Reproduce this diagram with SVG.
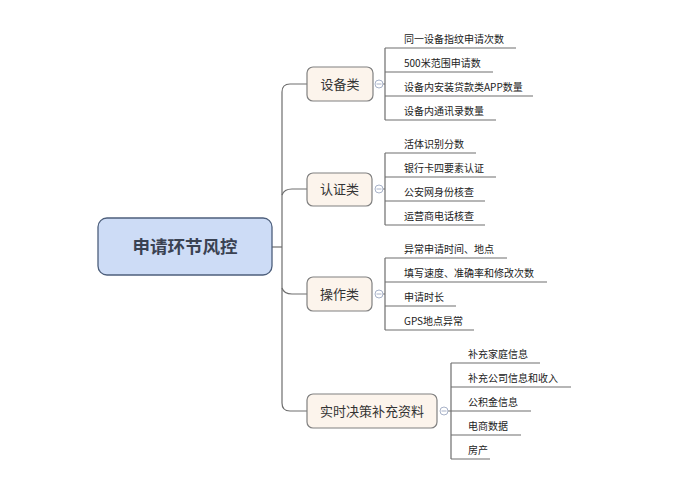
<svg xmlns="http://www.w3.org/2000/svg" width="679" height="497" viewBox="0 0 679 497">
<style>
.ln{fill:none;stroke:#6e6e6e;stroke-width:1.2}
.box{fill:#fcf4ec;stroke:#808080;stroke-width:1.2}
.nt{font-family:"Noto Sans CJK SC","Liberation Sans",sans-serif;font-size:13px;fill:#333;text-anchor:middle}
.lt{font-family:"Noto Sans CJK SC","Liberation Sans",sans-serif;font-size:10px;fill:#222}
.cc{fill:#fff;stroke:#a8b2c8;stroke-width:1}
.cm{stroke:#a8b2c8;stroke-width:1}
</style>
<rect width="679" height="497" fill="#fff"/>
<g id="connectors">
<path class="ln" d="M272 247H282"/>
<path class="ln" d="M307 84H290Q282 84 282 92V403Q282 411 290 411H307"/>
<path class="ln" d="M282 195Q284 189 292 189H307"/>
<path class="ln" d="M282 288Q284 294 292 294H307"/>
<path class="ln" d="M383 84H385M385 48V120M385 48H516M385 72H493M385 96H533M385 120H496"/>
<path class="ln" d="M383 189H385M385 153V225M385 153H476M385 177H496M385 201H485M385 225H485"/>
<path class="ln" d="M383 294H385M385 258V330M385 258H507M385 282H547M385 306H456M385 330H474"/>
<path class="ln" d="M448 411H451M451 363V459M451 363H540M451 387H571M451 411H531M451 435H521M451 459H490"/>
</g>
<g id="root">
<rect x="98" y="218" width="174" height="57" rx="9" fill="#cddcf6" stroke="#4d5f7c" stroke-width="1.3"/>
<text x="185" y="253" font-family="Noto Sans CJK SC,Liberation Sans,sans-serif" font-size="17.5" font-weight="bold" fill="#3a4252" text-anchor="middle">申请环节风控</text>
</g>
<g id="n1">
<rect class="box" x="307" y="67" width="66" height="34" rx="6"/>
<text class="nt" x="340" y="89">设备类</text>
<circle class="cc" cx="379" cy="84" r="4"/><path class="cm" d="M376.5 84H381.5"/>
<text class="lt" x="404" y="43">同一设备指纹申请次数</text>
<text class="lt" x="404" y="67">500米范围申请数</text>
<text class="lt" x="404" y="91">设备内安装贷款类APP数量</text>
<text class="lt" x="404" y="115">设备内通讯录数量</text>
</g>
<g id="n2">
<rect class="box" x="307" y="173" width="65" height="33" rx="6"/>
<text class="nt" x="339.5" y="194">认证类</text>
<circle class="cc" cx="379" cy="189" r="4"/><path class="cm" d="M376.5 189H381.5"/>
<text class="lt" x="404" y="148">活体识别分数</text>
<text class="lt" x="404" y="172">银行卡四要素认证</text>
<text class="lt" x="404" y="196">公安网身份核查</text>
<text class="lt" x="404" y="220">运营商电话核查</text>
</g>
<g id="n3">
<rect class="box" x="307" y="277" width="65" height="34" rx="6"/>
<text class="nt" x="339.5" y="299">操作类</text>
<circle class="cc" cx="379" cy="294" r="4"/><path class="cm" d="M376.5 294H381.5"/>
<text class="lt" x="404" y="253">异常申请时间、地点</text>
<text class="lt" x="404" y="277">填写速度、准确率和修改次数</text>
<text class="lt" x="404" y="301">申请时长</text>
<text class="lt" x="404" y="325">GPS地点异常</text>
</g>
<g id="n4">
<rect class="box" x="307" y="394" width="130" height="34" rx="6"/>
<text class="nt" x="372" y="416">实时决策补充资料</text>
<circle class="cc" cx="444" cy="411" r="4"/><path class="cm" d="M441.5 411H446.5"/>
<text class="lt" x="468" y="358">补充家庭信息</text>
<text class="lt" x="468" y="382">补充公司信息和收入</text>
<text class="lt" x="468" y="406">公积金信息</text>
<text class="lt" x="468" y="430">电商数据</text>
<text class="lt" x="468" y="454">房产</text>
</g>
</svg>
